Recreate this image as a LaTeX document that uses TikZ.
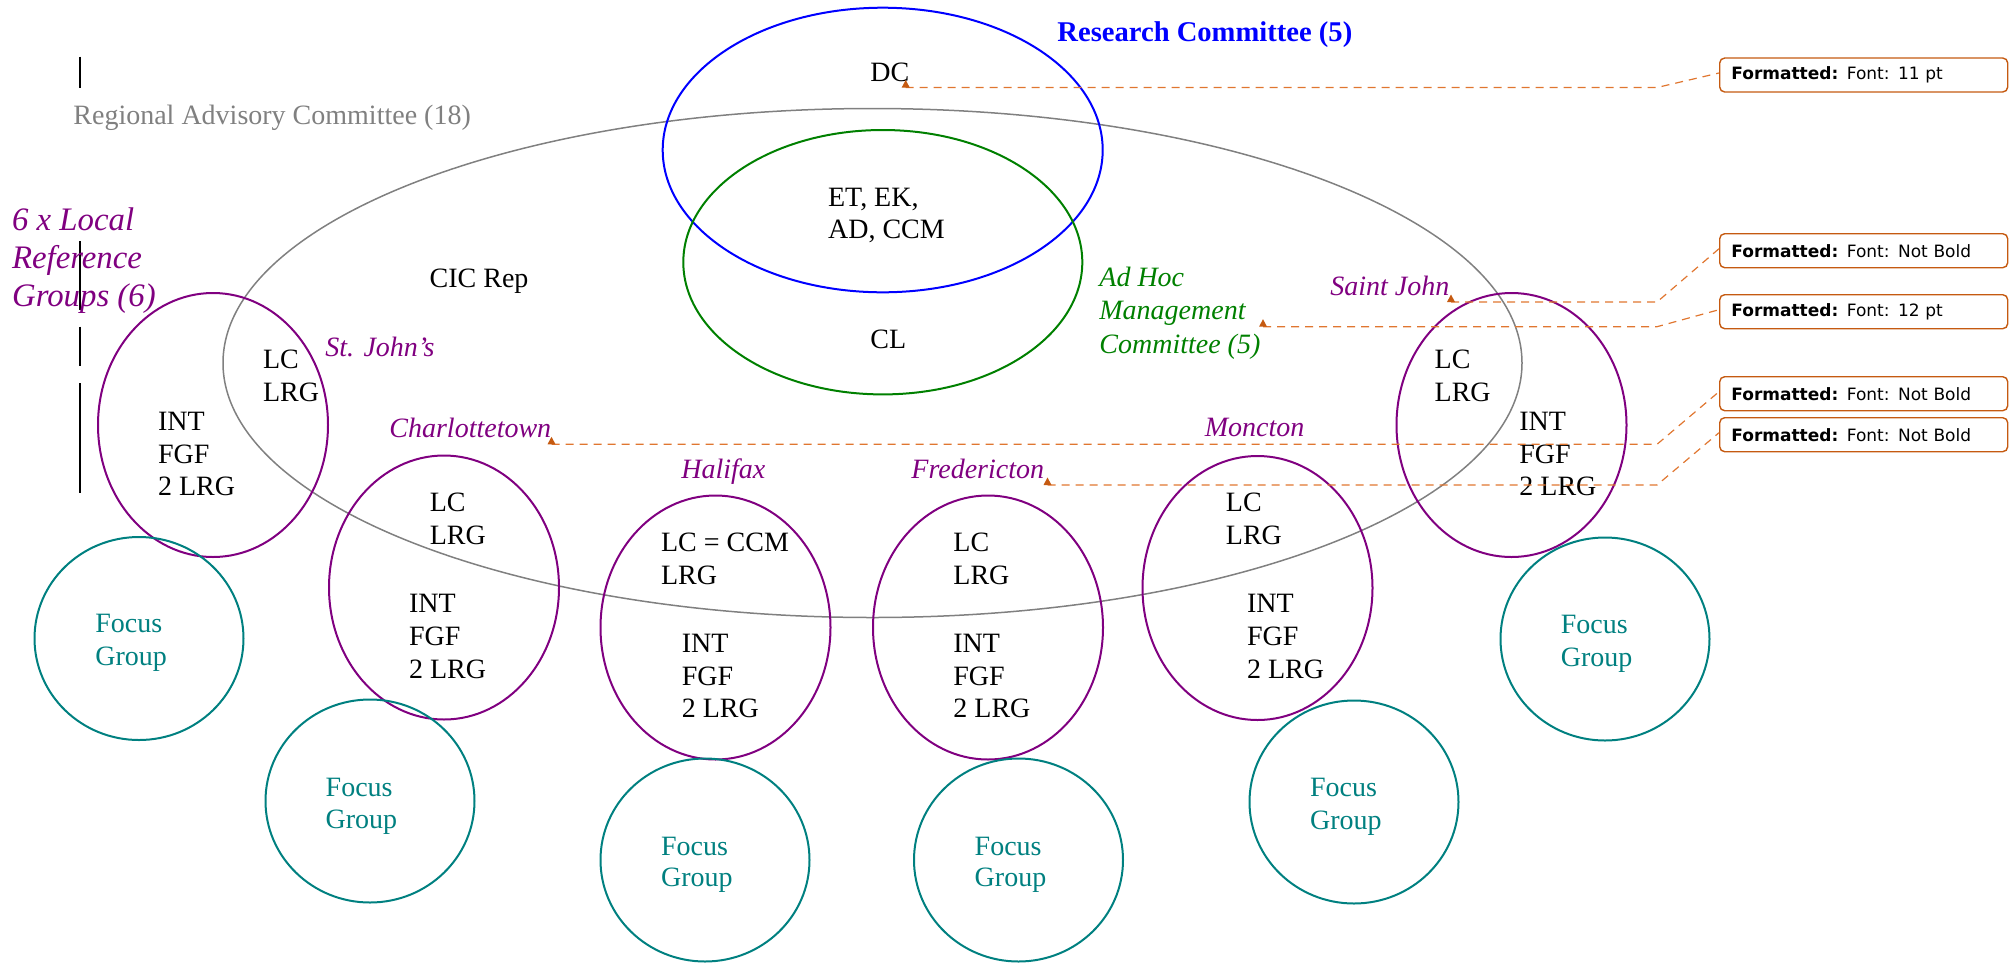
\documentclass[tikz,border=0pt]{standalone}
\usepackage{fontspec}
\setmainfont{Liberation Serif}
\newfontfamily\cmtfont{DejaVu Sans}
\usetikzlibrary{shapes.geometric}
\definecolor{rpurple}{RGB}{128,0,128}
\definecolor{rgreen}{RGB}{0,128,0}
\definecolor{rteal}{RGB}{0,128,128}
\definecolor{rgray}{RGB}{128,128,128}
\definecolor{rblue}{RGB}{0,0,255}
\definecolor{cmt}{RGB}{197,90,17}
\definecolor{cmtline}{RGB}{224,118,48}
\begin{document}
\begin{tikzpicture}[x=0.5pt,y=-0.5pt,
  ell/.style={ellipse, draw, inner sep=0pt, line width=1pt},
  lrg/.style={ell, draw=rpurple, minimum width=115pt, minimum height=132pt},
  focus/.style={ell, draw=rteal, minimum width=104.5pt, minimum height=101.5pt},
  txt/.style={anchor=base west, inner sep=0pt, font=\fontsize{14}{16}\selectfont},
  lbl/.style={txt, text=rpurple, font=\fontsize{14}{16}\selectfont\itshape},
  glbl/.style={txt, text=rgreen, font=\fontsize{14}{16}\selectfont\itshape},
  ftxt/.style={txt, text=rteal},
  cbox/.style={draw=cmt, line width=0.7pt, rounded corners=2.5pt, anchor=north west,
    minimum width=144pt, minimum height=17pt, inner xsep=5.85pt, inner ysep=0pt,
    text width=132.3pt, align=left, font=\cmtfont\fontsize{8.5}{10}\selectfont},
  cline/.style={draw=cmtline, dash pattern=on 4pt off 3pt, line width=0.6pt},
  tri/.style={fill=cmt},
  cbar/.style={line width=1.25pt, black}
]
\useasboundingbox (0,0) rectangle (2009,965);

% main ellipses
\node[ell, draw=rgray, line width=0.75pt, minimum width=649.5pt, minimum height=254.5pt] (rac) at (872.5,363) {};
\node[ell, draw=rblue, minimum width=220pt, minimum height=142.3pt] (rc) at (882.7,150) {};
\node[ell, draw=rgreen, minimum width=199.5pt, minimum height=132.2pt] (ahm) at (882.8,262.2) {};

% local reference group ellipses
\node[lrg] (esj) at (213,425) {};
\node[lrg] (ech) at (444,587.5) {};
\node[lrg] (eha) at (715.5,627.5) {};
\node[lrg] (efr) at (988,627.5) {};
\node[lrg] (emo) at (1257.5,588) {};
\node[lrg] (esa) at (1511.5,425) {};

% focus groups
\node[focus] (f1) at (139,638.5) {};
\node[focus] (f2) at (370,801) {};
\node[focus] (f3) at (705,860) {};
\node[focus] (f4) at (1018.5,860) {};
\node[focus] (f5) at (1354,802) {};
\node[focus] (f6) at (1605,639) {};

% change bars
\draw[cbar] (80,56.7) -- (80,87.7);
\draw[cbar] (80,241) -- (80,310);
\draw[cbar] (80,326.7) -- (80,366);
\draw[cbar] (80,383.3) -- (80,493.3);

% top texts
\node[txt, text=rblue, font=\fontsize{14.3}{16}\selectfont\bfseries] (trc) at (1057,41) {Research Committee (5)};
\node[txt] (tdc) at (870,81) {DC};
\node[txt, text=rgray] (trac) at (73,124.3) {Regional Advisory Committee (18)};
\node[lbl, font=\fontsize{16.4}{19}\selectfont\itshape] (tl1) at (11.7,230.7) {6 x Local};
\node[lbl, font=\fontsize{16.4}{19}\selectfont\itshape] (tl2) at (11.7,268.7) {Reference};
\node[lbl, font=\fontsize{16.4}{19}\selectfont\itshape] (tl3) at (11.7,306.7) {Groups (6)};
\node[txt] (tet) at (827.7,206) {ET, EK,};
\node[txt] (tad) at (827.7,238.7) {AD, CCM};
\node[txt] (tcic) at (429.3,287.3) {CIC Rep};
\node[txt] (tcl) at (870,348.3) {CL};
\node[glbl] (tah1) at (1099,286.7) {Ad Hoc};
\node[glbl] (tah2) at (1099,319.3) {Management};
\node[glbl] (tah3) at (1099,353.3) {Committee (5)};

% St. John's
\node[lbl] (lsj) at (325,356) {St. John’s};
\node[txt] (sj1) at (262.7,368.3) {LC};
\node[txt] (sj2) at (262.7,401.7) {LRG};
\node[txt] (sj3) at (157.7,430) {INT};
\node[txt] (sj4) at (157.7,463) {FGF};
\node[txt] (sj5) at (157.7,495.5) {2 LRG};

% Saint John
\node[lbl] (lsa) at (1330,295) {Saint John};
\node[txt] (sa1) at (1434.3,368.3) {LC};
\node[txt] (sa2) at (1434.3,401.7) {LRG};
\node[txt] (sa3) at (1519,430) {INT};
\node[txt] (sa4) at (1519,463) {FGF};
\node[txt] (sa5) at (1519,495.5) {2 LRG};

% Charlottetown
\node[lbl] (lch) at (389,437.3) {Charlottetown};
\node[txt] (ch1) at (429.4,511) {LC};
\node[txt] (ch2) at (429.4,544) {LRG};
\node[txt] (ch3) at (408.7,612.5) {INT};
\node[txt] (ch4) at (408.7,645) {FGF};
\node[txt] (ch5) at (408.7,678) {2 LRG};

% Moncton
\node[lbl] (lmo) at (1204.5,436.7) {Moncton};
\node[txt] (mo1) at (1225.5,511) {LC};
\node[txt] (mo2) at (1225.5,544) {LRG};
\node[txt] (mo3) at (1246.6,612.5) {INT};
\node[txt] (mo4) at (1246.6,645) {FGF};
\node[txt] (mo5) at (1246.6,678) {2 LRG};

% Halifax
\node[lbl] (lha) at (681,478.3) {Halifax};
\node[txt] (ha1) at (660.7,551.7) {LC = CCM};
\node[txt] (ha2) at (660.7,584) {LRG};
\node[txt] (ha3) at (681.4,652.7) {INT};
\node[txt] (ha4) at (681.4,685) {FGF};
\node[txt] (ha5) at (681.4,717.3) {2 LRG};

% Fredericton
\node[lbl] (lfr) at (911,478) {Fredericton};
\node[txt] (fr1) at (953,551.7) {LC};
\node[txt] (fr2) at (953,584) {LRG};
\node[txt] (fr3) at (953,652.7) {INT};
\node[txt] (fr4) at (953,685) {FGF};
\node[txt] (fr5) at (953,717.3) {2 LRG};

% focus group texts
\node[ftxt] (fg1a) at (95,632.7) {Focus};
\node[ftxt] (fg1b) at (95,665) {Group};
\node[ftxt] (fg2a) at (325.3,796) {Focus};
\node[ftxt] (fg2b) at (325.3,828.3) {Group};
\node[ftxt] (fg3a) at (660.7,855) {Focus};
\node[ftxt] (fg3b) at (660.7,886.7) {Group};
\node[ftxt] (fg4a) at (974.3,855) {Focus};
\node[ftxt] (fg4b) at (974.3,886.7) {Group};
\node[ftxt] (fg5a) at (1309.7,796.4) {Focus};
\node[ftxt] (fg5b) at (1309.7,829.6) {Group};
\node[ftxt] (fg6a) at (1560.4,633) {Focus};
\node[ftxt] (fg6b) at (1560.4,666) {Group};

% comment balloons
\node[cbox] (c1) at (1719,57.3) {\textbf{Formatted:} Font: 11 pt};
\node[cbox] (c2) at (1719,233) {\textbf{Formatted:} Font: Not Bold};
\node[cbox] (c3) at (1719,294) {\textbf{Formatted:} Font: 12 pt};
\node[cbox] (c4) at (1719,376) {\textbf{Formatted:} Font: Not Bold};
\node[cbox] (c5) at (1719,417) {\textbf{Formatted:} Font: Not Bold};

% comment anchors
\coordinate (kx) at (1657,0);
\coordinate (a1) at (905.7,87.5);
\coordinate (a2) at (1451,302);
\coordinate (a3) at (1263,326.7);
\coordinate (a4) at (551.5,444.3);
\coordinate (a5) at (1047.5,485);

\draw[cline] (a1) -- (a1 -| kx) -- ([yshift=1pt]c1.west);
\draw[cline] (a2) -- (a2 -| kx) -- ([yshift=1pt]c2.west);
\draw[cline] (a3) -- (a3 -| kx) -- ([yshift=1pt]c3.west);
\draw[cline] (a4) -- (a4 -| kx) -- ([yshift=1pt]c4.west);
\draw[cline] (a5) -- (a5 -| kx) -- ([yshift=1pt]c5.west);

\foreach \a in {a1,a2,a3,a4,a5}{
  \fill[tri] (\a) ++(-4,0) -- ++(8,0) -- ++(-4,-7.5) -- cycle;
}
\end{tikzpicture}
\end{document}
